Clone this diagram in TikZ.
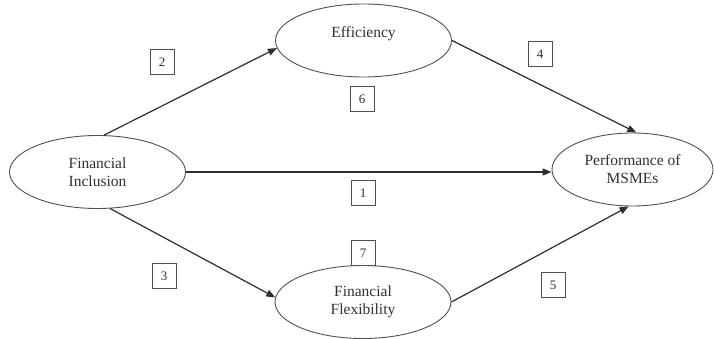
\documentclass[tikz,border=0pt]{standalone}
\usepackage{fontspec}
\setmainfont{Liberation Serif}
\usetikzlibrary{shapes.geometric,arrows.meta}
\definecolor{inkline}{HTML}{2E2E2E}
\definecolor{inkshape}{HTML}{505050}
\definecolor{inktext}{HTML}{303030}
\tikzset{
  construct/.style={ellipse, draw=inkshape, line width=0.9pt, inner sep=0pt,
    minimum width=176pt, minimum height=73pt, align=center,
    font=\fontsize{15.5}{18}\selectfont, text=inktext},
  pathlabel/.style={draw=inkshape, line width=0.8pt, minimum width=24pt,
    minimum height=25pt, inner sep=0pt, font=\fontsize{13}{14}\selectfont,
    text=inktext},
  link/.style={draw=inkline, line width=1.2pt,
    -{Triangle[length=9pt,width=7pt]}}
}
\begin{document}
\begin{tikzpicture}[x=1pt,y=-1pt]
  \useasboundingbox (0,0) rectangle (714,339);
  % constructs
  \node[construct] (fi)   at (97.5,172) {Financial\\Inclusion};
  \node[construct] (eff)  at (363.5,40.5) {\raisebox{3pt}[0pt][0pt]{Efficiency}};
  \node[construct] (flex) at (363,302)  {Financial\\Flexibility};
  \node[construct, minimum width=161pt] (perf) at (632.5,169.5) {Performance of\\MSMEs};
  % path numbers
  \node[pathlabel] (p1) at (363,193) {1};
  \node[pathlabel] (p2) at (162,62)  {2};
  \node[pathlabel] (p3) at (164,276) {3};
  \node[pathlabel] (p4) at (540,54)  {4};
  \node[pathlabel] (p5) at (553,285) {5};
  \node[pathlabel] (p6) at (362,99)  {6};
  \node[pathlabel] (p7) at (363,253) {7};
  % paths
  \draw[link] (fi.80)   -- (eff.185);
  \draw[link] (fi.east) -- (perf.west |- fi.east);
  \draw[link] (fi.289)  -- (flex.177);
  \draw[link] (eff.east) -- (perf.84);
  \draw[link] (flex.east) -- (perf.264);
\end{tikzpicture}
\end{document}
